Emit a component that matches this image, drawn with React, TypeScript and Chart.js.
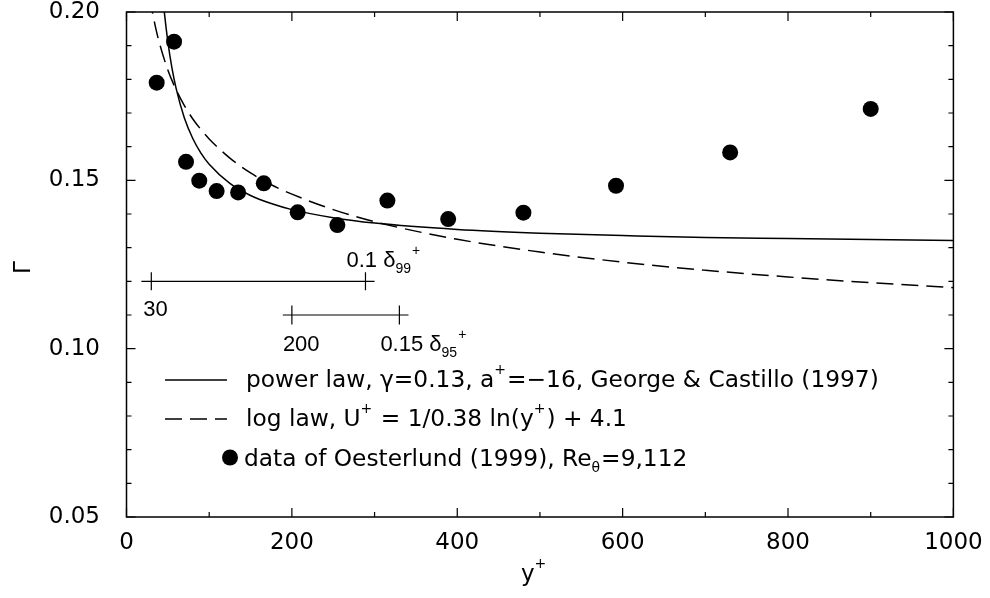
import React, { useEffect, useRef } from 'react';
import { Chart, registerables } from 'chart.js';

Chart.register(...registerables);

// ---- data ----
const dataX = [36.5, 57.5, 72, 88, 109, 135, 166, 207, 255, 315.5, 389, 480, 592, 730, 900];
const dataY = [0.179, 0.1912, 0.1555, 0.1499, 0.1468, 0.1464, 0.1491, 0.1405, 0.1367, 0.144, 0.1385, 0.1404, 0.1484, 0.1583, 0.1712];

const powerX = [42, 45, 50, 55, 60, 70, 80, 90, 100, 125, 150, 175, 200, 250, 300, 400, 500, 600, 700, 800, 900, 1000];
const powerY = [0.21, 0.2017, 0.1912, 0.1833, 0.1773, 0.1685, 0.1625, 0.1581, 0.1548, 0.1491, 0.1455, 0.1431, 0.1413, 0.1389, 0.1373, 0.1354, 0.1343, 0.1336, 0.133, 0.1327, 0.1324, 0.1321];

const logX = [28, 30, 35, 40, 50, 60, 70, 80, 90, 100, 125, 150, 175, 200, 250, 300, 400, 500, 600, 700, 800, 900, 1000];
const logY = [0.2045, 0.2017, 0.1956, 0.1906, 0.1828, 0.1769, 0.1722, 0.1683, 0.1651, 0.1623, 0.1566, 0.1522, 0.1487, 0.1459, 0.1413, 0.1377, 0.1325, 0.1287, 0.1257, 0.1233, 0.1213, 0.1196, 0.1181];

const bar1Range = [18, 300];
const bar1Ticks = [30, 289];
const bar1Level = 0.12;
const bar2Range = [189, 341];
const bar2Ticks = [200, 330];
const bar2Level = 0.11;

const xMin = 0;
const xMax = 1000;
const xStep = 100;
const xLabelEvery = 200;
const yMin = 0.05;
const yMax = 0.2;
const yStep = 0.01;

const legendPower = 'power law, γ=0.13, a';
const legendPowerRest = '=−16, George & Castillo (1997)';
const legendLog = ['log law, U', ' = 1/0.38 ln(y', ') + 4.1'];
const legendData = ['data of Oesterlund (1999), Re', 'θ', '=9,112'];

const FONT = '"DejaVu Sans", sans-serif';
const AFONT = '"Liberation Sans", Arial, sans-serif';
const DASH = [17, 8];

type Part = { t: string; k?: 'sup' | 'sub' };

function drawRich(ctx: CanvasRenderingContext2D, parts: Part[], x: number, y: number, size: number, family: string) {
  let cx = x;
  ctx.textAlign = 'left';
  ctx.textBaseline = 'alphabetic';
  for (const p of parts) {
    const s = p.k ? Math.round(size * 0.62) : size;
    ctx.font = `${s}px ${family}`;
    const dy = p.k === 'sup' ? -size * 0.56 : p.k === 'sub' ? size * 0.27 : 0;
    ctx.fillText(p.t, cx, y + dy);
    cx += ctx.measureText(p.t).width + (p.k ? 1 : 0);
  }
  return cx;
}

const decorPlugin = {
  id: 'decor',
  afterDraw(chart: any) {
    const ctx: CanvasRenderingContext2D = chart.ctx;
    const { left, right, top, bottom } = chart.chartArea;
    const xs = chart.scales.x;
    const ys = chart.scales.y;
    ctx.save();
    ctx.strokeStyle = '#000';
    ctx.fillStyle = '#000';
    ctx.lineWidth = 1.5;
    ctx.strokeRect(left, top, right - left, bottom - top);

    // inward ticks
    ctx.lineWidth = 1.2;
    ctx.beginPath();
    for (const t of xs.ticks) {
      const px = xs.getPixelForValue(t.value);
      const len = Math.round(t.value) % xLabelEvery === 0 ? 9 : 5;
      ctx.moveTo(px, bottom);
      ctx.lineTo(px, bottom - len);
      ctx.moveTo(px, top);
      ctx.lineTo(px, top + len);
    }
    for (const t of ys.ticks) {
      const py = ys.getPixelForValue(t.value);
      const len = Math.round(t.value * 100) % 5 === 0 ? 9 : 5;
      ctx.moveTo(left, py);
      ctx.lineTo(left + len, py);
      ctx.moveTo(right, py);
      ctx.lineTo(right - len, py);
    }
    ctx.stroke();

    // axis titles
    ctx.save();
    ctx.translate(22, 267.5);
    ctx.rotate(-Math.PI / 2);
    ctx.font = `23px ${FONT}`;
    ctx.textAlign = 'center';
    ctx.textBaseline = 'alphabetic';
    ctx.fillText('Γ', 0, 8);
    ctx.restore();

    drawRich(ctx, [{ t: 'y' }, { t: '+', k: 'sup' }], 521, 581, 23, FONT);

    // range bar labels
    const b1y = ys.getPixelForValue(bar1Level);
    const b2y = ys.getPixelForValue(bar2Level);
    ctx.font = `22px ${AFONT}`;
    ctx.textAlign = 'left';
    ctx.fillText('30', xs.getPixelForValue(bar1Ticks[0]) - 8, b1y + 35);
    drawRich(ctx, [{ t: '0.1 δ' }, { t: '99', k: 'sub' }, { t: '+', k: 'sup' }], xs.getPixelForValue(bar1Ticks[1]) - 19, b1y - 14, 22, AFONT);
    ctx.font = `22px ${AFONT}`;
    ctx.fillText('200', xs.getPixelForValue(bar2Ticks[0]) - 9, b2y + 36);
    drawRich(ctx, [{ t: '0.15 δ' }, { t: '95', k: 'sub' }, { t: '+', k: 'sup' }], xs.getPixelForValue(bar2Ticks[1]) - 19, b2y + 36, 22, AFONT);

    // legend
    const lx0 = 165;
    const lx1 = 227;
    const tx = 246;
    const rows = [387, 426, 466];
    ctx.lineWidth = 1.5;
    ctx.beginPath();
    ctx.moveTo(lx0, rows[0] - 7);
    ctx.lineTo(lx1, rows[0] - 7);
    ctx.stroke();
    ctx.setLineDash(DASH);
    ctx.beginPath();
    ctx.moveTo(lx0, rows[1] - 7);
    ctx.lineTo(lx1, rows[1] - 7);
    ctx.stroke();
    ctx.setLineDash([]);
    ctx.beginPath();
    ctx.arc(230, rows[2] - 8.5, 8, 0, Math.PI * 2);
    ctx.fill();

    const LS = 23.3;
    drawRich(ctx, [{ t: legendPower }, { t: '+', k: 'sup' }, { t: legendPowerRest }], tx, rows[0], LS, FONT);
    drawRich(ctx, [{ t: legendLog[0] }, { t: '+', k: 'sup' }, { t: legendLog[1] }, { t: '+', k: 'sup' }, { t: legendLog[2] }], tx, rows[1], LS, FONT);
    drawRich(ctx, [{ t: legendData[0] }, { t: legendData[1], k: 'sub' }, { t: legendData[2] }], tx - 2, rows[2], LS, FONT);

    ctx.restore();
  },
};

const pts = (xs: number[], ys: number[]) => xs.map((x, i) => ({ x, y: ys[i] }));

export default function App() {
  const ref = useRef<HTMLCanvasElement | null>(null);
  useEffect(() => {
    if (!ref.current) return;
    const chart = new Chart(ref.current, {
      type: 'line',
      data: {
        datasets: [
          {
            data: pts(powerX, powerY),
            borderColor: '#000',
            borderWidth: 1.5,
            pointRadius: 0,
            cubicInterpolationMode: 'monotone',
            fill: false,
          },
          {
            data: pts(logX, logY),
            borderColor: '#000',
            borderWidth: 1.5,
            borderDash: DASH,
            pointRadius: 0,
            cubicInterpolationMode: 'monotone',
            fill: false,
          },
          {
            data: pts(dataX, dataY),
            showLine: false,
            pointRadius: 8,
            pointBackgroundColor: '#000',
            pointBorderWidth: 0,
            pointBorderColor: '#000',
          },
          {
            data: pts(bar1Range, [bar1Level, bar1Level]),
            borderColor: '#000',
            borderWidth: 1.2,
            pointRadius: 0,
          },
          {
            data: pts(bar1Ticks, [bar1Level, bar1Level]),
            showLine: false,
            pointStyle: 'line',
            rotation: 90,
            pointRadius: 9,
            pointBorderColor: '#000',
            pointBorderWidth: 1.2,
          },
          {
            data: pts(bar2Range, [bar2Level, bar2Level]),
            borderColor: '#000',
            borderWidth: 1.2,
            pointRadius: 0,
          },
          {
            data: pts(bar2Ticks, [bar2Level, bar2Level]),
            showLine: false,
            pointStyle: 'line',
            rotation: 90,
            pointRadius: 9.5,
            pointBorderColor: '#000',
            pointBorderWidth: 1.2,
          },
        ],
      },
      options: {
        animation: false,
        responsive: true,
        maintainAspectRatio: false,
        layout: { padding: { left: 0, top: 12, right: 36.6, bottom: 0 } },
        plugins: { legend: { display: false }, tooltip: { enabled: false } },
        scales: {
          x: {
            type: 'linear',
            min: xMin,
            max: xMax,
            grid: { display: false },
            border: { display: false },
            ticks: {
              stepSize: xStep,
              autoSkip: false,
              maxRotation: 0,
              padding: 4,
              color: '#000',
              font: { family: FONT, size: 23 },
              callback: (v: any) => (Math.round(v) % xLabelEvery === 0 ? String(v) : ''),
            },
            afterFit: (s: any) => {
              s.height = 81;
              s.paddingLeft = 0;
              s.paddingRight = 0;
            },
          },
          y: {
            type: 'linear',
            min: yMin,
            max: yMax,
            grid: { display: false },
            border: { display: false },
            ticks: {
              stepSize: yStep,
              autoSkip: false,
              padding: 18.5,
              color: '#000',
              font: { family: FONT, size: 23 },
              callback: (v: any) => {
                const n = Math.round(v * 100);
                return n % 5 === 0 ? (n / 100).toFixed(2) : '';
              },
            },
            afterFit: (s: any) => {
              s.width = 126.5;
              s.paddingTop = 0;
              s.paddingBottom = 0;
            },
          },
        },
      },
      plugins: [decorPlugin],
    } as any);
    return () => chart.destroy();
  }, []);
  return (
    <div style={{ position: 'absolute', left: 0, top: 0, width: 990, height: 598, background: '#fff' }}>
      <canvas ref={ref} />
    </div>
  );
}
